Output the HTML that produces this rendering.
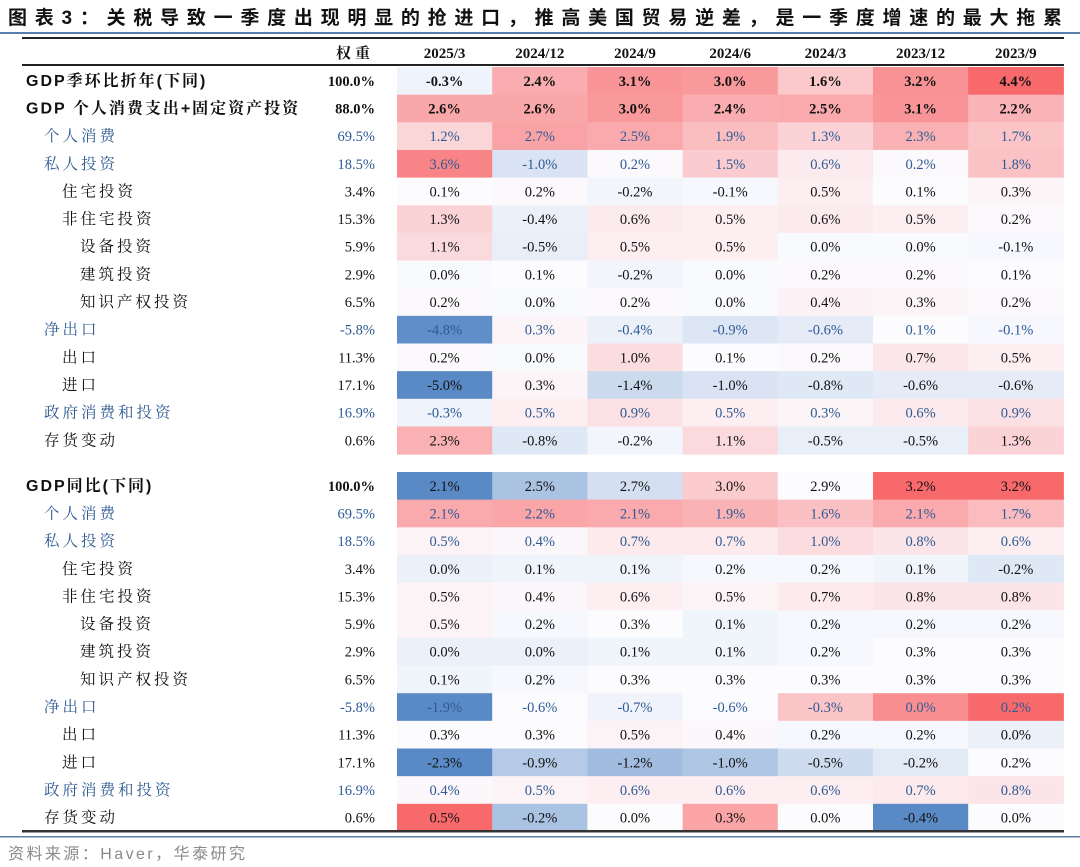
<!DOCTYPE html>
<html><head><meta charset="utf-8">
<style>
html,body{margin:0;padding:0;background:#fff;width:1080px;height:867px;overflow:hidden}
svg{display:block}
</style></head>
<body>
<svg id="chart" width="1080" height="867" viewBox="0 0 1080 867">
<text x="8" y="24" font-family="'Liberation Sans','Noto Sans CJK SC',sans-serif" font-size="19" font-weight="bold" fill="#111" textLength="1054" lengthAdjust="spacing">图表3：关税导致一季度出现明显的抢进口，推高美国贸易逆差，是一季度增速的最大拖累</text>
<rect x="0" y="32" width="1080" height="2" fill="#5b7fab"/>
<g id="tbl"></g>
<text x="8" y="859" font-family="'Liberation Sans','Noto Sans CJK SC',sans-serif" font-size="16" fill="#8a8a8a" textLength="237" lengthAdjust="spacing">资料来源：Haver，华泰研究</text>
</svg>
<script>
const periods = ["2025/3","2024/12","2024/9","2024/6","2024/3","2023/12","2023/9"];
const labels1 = ["GDP季环比折年(下同)","GDP 个人消费支出+固定资产投资","个人消费","私人投资","住宅投资","非住宅投资","设备投资","建筑投资","知识产权投资","净出口","出口","进口","政府消费和投资","存货变动"];
const weights1 = ["100.0%","88.0%","69.5%","18.5%","3.4%","15.3%","5.9%","2.9%","6.5%","-5.8%","11.3%","17.1%","16.9%","0.6%"];
const levels1 = [0,0,1,1,2,2,3,3,3,1,2,2,1,1];
const blue1 = [0,0,1,1,0,0,0,0,0,1,0,0,1,0];
const values1 = [
[-0.3,2.4,3.1,3.0,1.6,3.2,4.4],
[2.6,2.6,3.0,2.4,2.5,3.1,2.2],
[1.2,2.7,2.5,1.9,1.3,2.3,1.7],
[3.6,-1.0,0.2,1.5,0.6,0.2,1.8],
[0.1,0.2,-0.2,-0.1,0.5,0.1,0.3],
[1.3,-0.4,0.6,0.5,0.6,0.5,0.2],
[1.1,-0.5,0.5,0.5,0.0,0.0,-0.1],
[0.0,0.1,-0.2,0.0,0.2,0.2,0.1],
[0.2,0.0,0.2,0.0,0.4,0.3,0.2],
[-4.8,0.3,-0.4,-0.9,-0.6,0.1,-0.1],
[0.2,0.0,1.0,0.1,0.2,0.7,0.5],
[-5.0,0.3,-1.4,-1.0,-0.8,-0.6,-0.6],
[-0.3,0.5,0.9,0.5,0.3,0.6,0.9],
[2.3,-0.8,-0.2,1.1,-0.5,-0.5,1.3]];
const labels2 = ["GDP同比(下同)","个人消费","私人投资","住宅投资","非住宅投资","设备投资","建筑投资","知识产权投资","净出口","出口","进口","政府消费和投资","存货变动"];
const weights2 = ["100.0%","69.5%","18.5%","3.4%","15.3%","5.9%","2.9%","6.5%","-5.8%","11.3%","17.1%","16.9%","0.6%"];
const levels2 = [0,1,1,2,2,3,3,3,1,2,2,1,1];
const blue2 = [0,1,1,0,0,0,0,0,1,0,0,1,0];
// 0 = block scale, 1 = row scale with median midpoint, 2 = row scale with max as white
const perRow2 = [1,0,0,0,0,0,0,0,1,0,2,0,1];
const values2 = [
[2.1,2.5,2.7,3.0,2.9,3.2,3.2],
[2.1,2.2,2.1,1.9,1.6,2.1,1.7],
[0.5,0.4,0.7,0.7,1.0,0.8,0.6],
[0.0,0.1,0.1,0.2,0.2,0.1,-0.2],
[0.5,0.4,0.6,0.5,0.7,0.8,0.8],
[0.5,0.2,0.3,0.1,0.2,0.2,0.2],
[0.0,0.0,0.1,0.1,0.2,0.3,0.3],
[0.1,0.2,0.3,0.3,0.3,0.3,0.3],
[-1.9,-0.6,-0.7,-0.6,-0.3,0.0,0.2],
[0.3,0.3,0.5,0.4,0.2,0.2,0.0],
[-2.3,-0.9,-1.2,-1.0,-0.5,-0.2,0.2],
[0.4,0.5,0.6,0.6,0.6,0.7,0.8],
[0.5,-0.2,0.0,0.3,0.0,-0.4,0.0]];

const NS="http://www.w3.org/2000/svg";
const g=document.getElementById('tbl');
const X0=397, CW=95.2, RH=27.65, LEFT=22, RIGHT=1064;
const colX=i=>X0+i*CW;
const W=[252,252,255], B=[90,138,198], R=[248,105,107];
function mix(a,b,t){t=Math.max(0,Math.min(1,t));return 'rgb('+a.map((v,i)=>Math.round(v+(b[i]-v)*t)).join(',')+')';}
function scaleColor(v,min,mid,max){ if(v>=mid) return mix(W,R,max===mid?0:(v-mid)/(max-mid)); return mix(W,B,(mid-v)/(mid-min)); }
function el(tag,attrs,txt){const e=document.createElementNS(NS,tag);for(const k in attrs)e.setAttribute(k,attrs[k]);if(txt!==undefined)e.textContent=txt;g.appendChild(e);return e;}
const serif="'Liberation Serif','Noto Serif CJK SC',serif";
const cjk="'Liberation Sans','Noto Serif CJK SC',serif";
const indent=[26,44,62,80];

let e;
e=el('rect',{x:LEFT,y:37,width:RIGHT-LEFT,height:2,fill:'#222'});


e=el('text',{x:355,y:58,'text-anchor':'middle','font-family':cjk,'font-size':15,'font-weight':'bold','letter-spacing':4,fill:'#111'},'权重');


periods.forEach((p,i)=>{
  const t=el('text',{x:colX(i)+CW/2,y:58,'text-anchor':'middle','font-family':serif,'font-size':15,'font-weight':'bold',fill:'#111'},p);
  
  
});
e=el('rect',{x:LEFT,y:64,width:RIGHT-LEFT,height:2,fill:'#222'});



function drawBlock(top,labels,weights,levels,blues,values,colorFn,blockName){
  labels.forEach((lab,r)=>{
    const y=top+r*RH, cy=y+RH/2+5;
    const bold=levels[r]===0;
    const col=blues[r]?'#2e5a94':'#111';
    const lt=el('text',{x:indent[levels[r]],y:cy,'font-family':cjk,'font-size':bold?16:15.5,'font-weight':bold?'bold':'normal','letter-spacing':bold?2:3,fill:col},lab);
    
    
    if(lab.length>20){lt.setAttribute('textLength','278');lt.setAttribute('lengthAdjust','spacingAndGlyphs');}
    const wt=el('text',{x:375,y:cy,'text-anchor':'end','font-family':serif,'font-size':14.5,'font-weight':bold?'bold':'normal',fill:col},weights[r]);
    
    
    values[r].forEach((v,i)=>{
      const c=el('rect',{x:colX(i),y:y,width:CW+0.5,height:RH+0.5,fill:colorFn(r,v)});
      
      
      const t=el('text',{x:colX(i)+CW/2,y:cy,'text-anchor':'middle','font-family':serif,'font-size':14.5,'font-weight':bold&&blockName==='qoq'?'bold':'normal',fill:col},v.toFixed(1)+'%');
      
      
    });
  });
}
const all1=values1.flat(); const min1=Math.min(...all1), max1=Math.max(...all1);
drawBlock(67,labels1,weights1,levels1,blue1,values1,(r,v)=>scaleColor(v,min1,0.1,max1),'qoq');
const all2=values2.filter((_,r)=>!perRow2[r]).flat();
const min2=Math.min(...all2,-2.5), max2=Math.max(...all2)+1.3;
drawBlock(472,labels2,weights2,levels2,blue2,values2,(r,v)=>{
  const row=values2[r];
  if(perRow2[r]===1){const s=[...row].sort((a,b)=>a-b);return scaleColor(v,Math.min(...row),s[3],Math.max(...row));}
  if(perRow2[r]===2){return scaleColor(v,Math.min(...row),Math.max(...row),Math.max(...row));}
  return scaleColor(v,min2,0.3,max2);
},'yoy');
e=el('rect',{x:LEFT,y:830,width:RIGHT-LEFT,height:2.5,fill:'#333'});


e=el('rect',{x:0,y:836,width:1080,height:1.5,fill:'#5b7fab'});


</script>
</body></html>
